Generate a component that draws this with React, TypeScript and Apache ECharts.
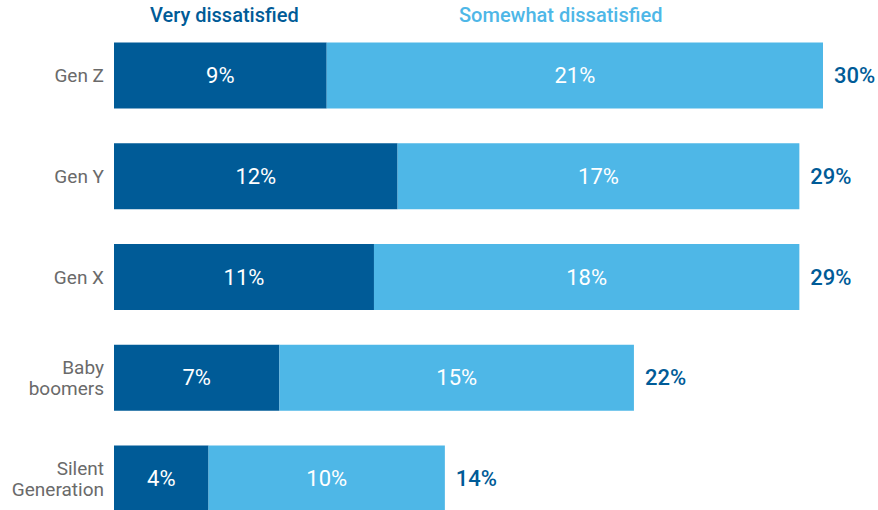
import React, { useEffect, useRef } from "react";
import * as echarts from "echarts";

const categories = ["Gen Z", "Gen Y", "Gen X", "Baby\nboomers", "Silent\nGeneration"];
const veryDissatisfied = [9, 12, 11, 7, 4];
const somewhatDissatisfied = [21, 17, 18, 15, 10];
const totals = [30, 29, 29, 22, 14];
const seriesNames = ["Very dissatisfied", "Somewhat dissatisfied"];

const FONT = "Roboto, 'Noto Sans', sans-serif";
const DARK = "#005B97";
const LIGHT = "#4EB7E7";

export default function App() {
  const ref = useRef<HTMLDivElement>(null);
  useEffect(() => {
    if (!ref.current) return;
    const chart = echarts.init(ref.current, null, { renderer: "svg" });
    chart.setOption({
      animation: false,
      textStyle: { fontFamily: FONT },
      grid: { left: 114, top: 25, width: 709, height: 504, containLabel: false },
      xAxis: { type: "value", min: 0, max: 30, show: false },
      yAxis: {
        type: "category",
        data: categories,
        inverse: true,
        axisLine: { show: false },
        axisTick: { show: false },
        axisLabel: {
          color: "#6a6a6a",
          fontSize: 19,
          lineHeight: 21,
          margin: 10,
          fontFamily: FONT,
        },
      },
      graphic: [
        {
          type: "text",
          left: 150,
          top: 5,
          style: { text: seriesNames[0], fill: DARK, font: `500 20px ${FONT}` },
        },
        {
          type: "text",
          left: 459,
          top: 5,
          style: { text: seriesNames[1], fill: LIGHT, font: `500 20px ${FONT}` },
        },
      ],
      series: [
        {
          name: seriesNames[0],
          type: "bar",
          stack: "s",
          barWidth: 66,
          data: veryDissatisfied,
          itemStyle: { color: DARK },
          label: {
            show: true,
            position: "inside",
            color: "#ffffff",
            fontSize: 22,
            fontFamily: FONT,
            formatter: (p: any) => p.value + "%",
          },
        },
        {
          name: seriesNames[1],
          type: "bar",
          stack: "s",
          barWidth: 66,
          data: somewhatDissatisfied,
          itemStyle: { color: LIGHT },
          label: {
            show: true,
            position: "inside",
            color: "#ffffff",
            fontSize: 22,
            fontFamily: FONT,
            formatter: (p: any) => p.value + "%",
          },
        },
        {
          name: "Total",
          type: "bar",
          stack: "s",
          barWidth: 66,
          data: totals.map(() => 0),
          itemStyle: { color: "transparent" },
          label: {
            show: true,
            position: "right",
            distance: 11,
            color: DARK,
            fontSize: 22,
            fontWeight: 500,
            fontFamily: FONT,
            formatter: (p: any) => totals[p.dataIndex] + "%",
          },
        },
      ],
    });
    return () => chart.dispose();
  }, []);
  return (
    <div
      ref={ref}
      style={{ position: "fixed", left: 0, top: 0, width: 878, height: 530, background: "#fff" }}
    />
  );
}
